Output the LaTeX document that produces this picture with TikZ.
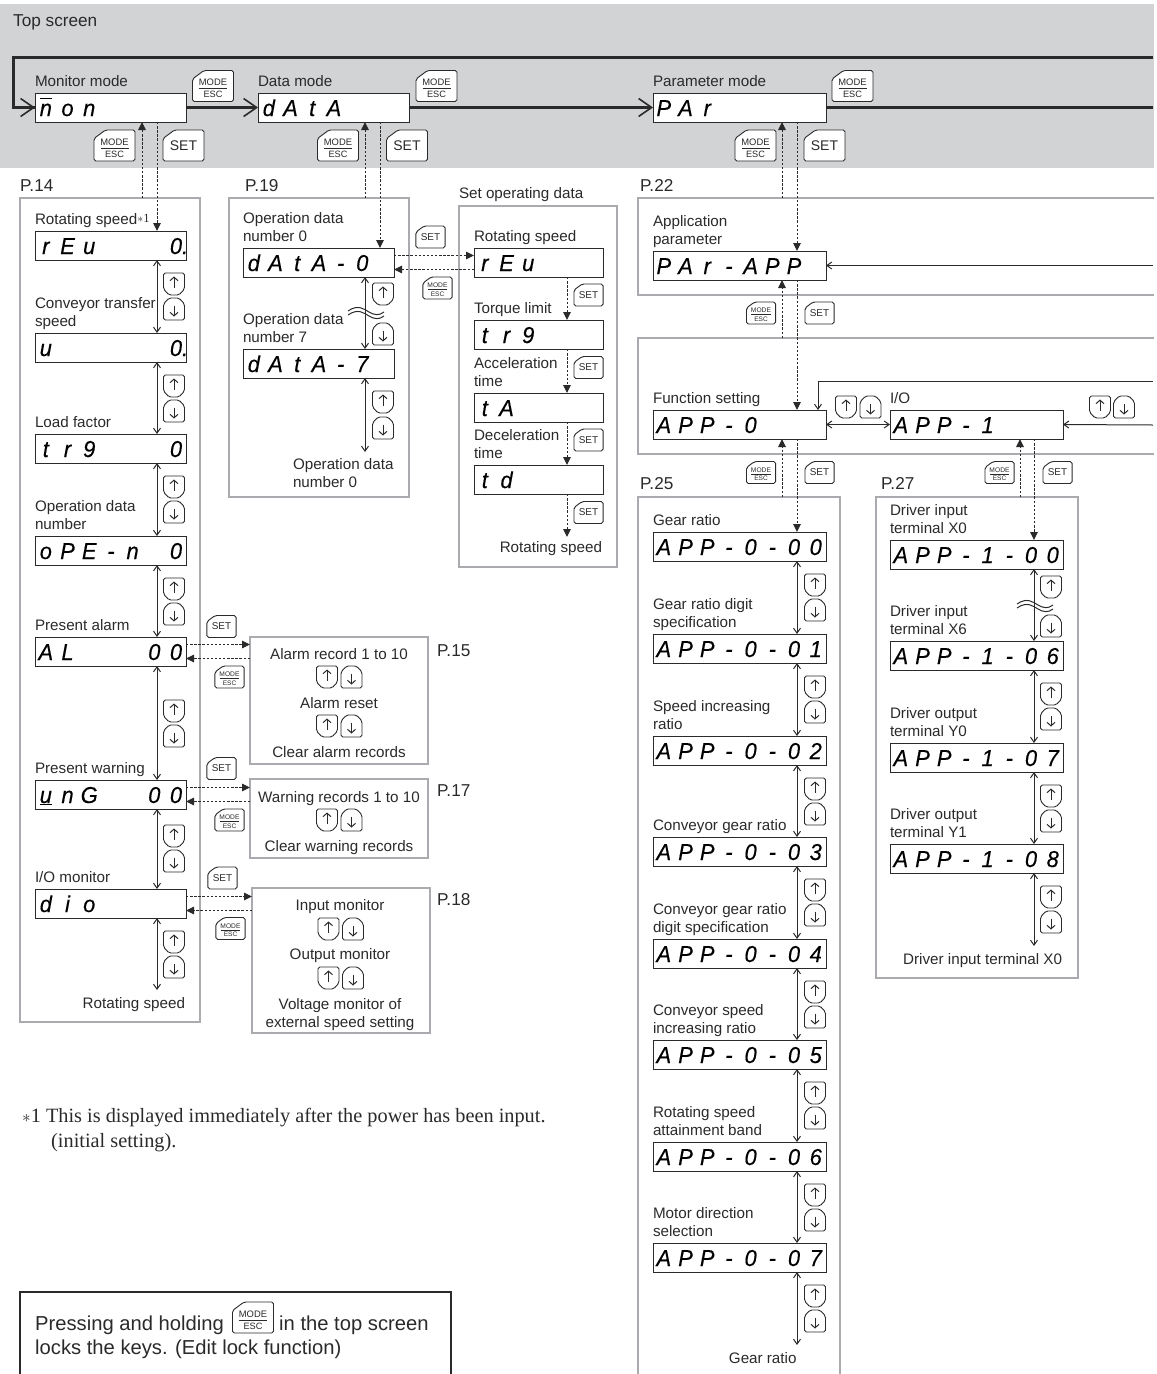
\documentclass[tikz,border=0pt]{standalone}
\usepackage{fontspec}
\usetikzlibrary{arrows.meta,positioning}
\setmainfont{Liberation Sans}
\newfontfamily\notefont{Liberation Serif}
\newfontfamily\lcdfont[FakeStretch=0.95,FakeBold=0.3]{Liberation Sans}

\definecolor{ink}{HTML}{2B2A2A}
\definecolor{bandgray}{HTML}{D1D3D4}
\definecolor{framegray}{HTML}{A9ABAE}

% one cell per character of a display
\def\lcdloop#1{\ifx#1\relax\else\makebox[21.7pt]{#1}\expandafter\lcdloop\fi}
\newcommand\lcd[1]{\lcdloop#1\relax}
\newcommand\lcdx[1]{\expandafter\lcdloop#1\relax}
\newcommand\lcdn{$\overline{\hbox{\vphantom{d}n}}$}
\newcommand\lcdv{\underline{u}}
\newcommand\zerodot{\kern6pt 0.}
\newcommand\starone{\raisebox{2.5pt}{\notefont\fontsize{12.5}{12}\selectfont$\ast$1}}

\tikzstyle{txt}=[inner sep=0pt, outer sep=0pt, text=ink, align=left, text depth=3pt, font={\fontsize{15.2}{18}\selectfont}]
\tikzstyle{ctxt}=[txt, align=center, anchor=south]
\tikzstyle{lbl}=[txt]
\tikzstyle{bigtxt}=[inner sep=0pt, text=ink, anchor=base west, font={\fontsize{17.2}{20}\selectfont}]
\tikzstyle{holdtxt}=[inner sep=0pt, text=ink, anchor=base west, font={\fontsize{20.2}{24}\selectfont}]
\tikzstyle{notetxt}=[inner sep=0pt, text=ink, anchor=base west, font={\notefont\fontsize{20.3}{24}\selectfont}]
\tikzstyle{frame}=[draw=framegray, line width=2.2pt, inner sep=0pt, outer sep=0pt, anchor=north west]
\tikzstyle{lcdbox}=[draw=ink, fill=white, line width=0.9pt, inner sep=0pt, outer sep=0pt, anchor=north west, minimum height=29pt, text height=17pt, text depth=0pt, align=left, font={\lcdfont\itshape\fontsize{23}{23}\selectfont}]
\tikzstyle{lcdmid}=[lcdbox, text width=151pt]
\tikzstyle{lcdwide}=[lcdbox, text width=173pt]
\tikzstyle{lcdshort}=[lcdbox, text width=129pt]
\tikzstyle{thickline}=[draw=ink, line width=2.4pt]
\tikzstyle{thickarrow}=[thickline, -{Straight Barb[length=13pt,width=18pt,line width=1.6pt]}]
\tikzstyle{stepline}=[draw=ink, line width=1pt]
\tikzstyle{steparrow}=[stepline, -{Straight Barb[length=5pt,width=7pt]}]
\tikzstyle{stepboth}=[stepline, {Straight Barb[length=5pt,width=7pt]}-{Straight Barb[length=5pt,width=7pt]}]
\tikzstyle{dotline}=[draw=ink, line width=1pt, dash pattern=on 2.4pt off 1.7pt]
\tikzstyle{dotarrow}=[dotline, -{Triangle[length=8pt,width=7.5pt]}]
\tikzstyle{keyline}=[draw=ink, fill=white, line width=0.9pt, rounded corners=1.8pt]
\tikzstyle{keyarrow}=[draw=ink, line width=1pt, -{Straight Barb[length=3.5pt,width=8pt]}]
\tikzstyle{smallkey}=[scale=0.71, transform shape]

\tikzset{
  pics/upkey/.style={code={
    \draw[keyline] (-10.5,-11) -- (10.5,-11) -- (10.5,5) -- (5,11) -- (-5,11) -- (-10.5,5) -- cycle;
    \draw[keyarrow] (0,3.5) -- (0,-7.5);
  }},
  pics/downkey/.style={code={
    \draw[keyline] (-5,-11) -- (5,-11) -- (10.5,-5) -- (10.5,11) -- (-10.5,11) -- (-10.5,-5) -- cycle;
    \draw[keyarrow] (0,-3.5) -- (0,7.5);
  }},
  pics/setkey/.style={code={
    \draw[keyline] (-20.5,-7) -- (-9,-15.5) -- (20.5,-15.5) -- (20.5,15.5) -- (-20.5,15.5) -- cycle;
    \node[inner sep=0pt, text=ink, font={\fontsize{14}{14}\selectfont}] (-lbl) at (0,0) {SET};
  }},
  pics/modekey/.style={code={
    \draw[keyline] (-20.5,-7) -- (-9,-15.5) -- (20.5,-15.5) -- (20.5,15.5) -- (-20.5,15.5) -- cycle;
    \node[inner sep=0pt, text=ink, font={\fontsize{9.4}{9.4}\selectfont}] (-top) at (0,-3.5) {MODE};
    \node[inner sep=0pt, text=ink, font={\fontsize{9.2}{9.2}\selectfont}] (-bot) at (0,8.7) {ESC};
    \draw[draw=ink, line width=0.9pt] (-14,2.7) -- (14,2.7);
  }},
  pics/wavebreak/.style={code={
    \draw[stepline] (-18,-2) .. controls (-8,-9) and (-2,-4) .. (3,-1) .. controls (8,2) and (13,3) .. (18,-1);
    \draw[stepline] (-18,2) .. controls (-8,-5) and (-2,0) .. (3,3) .. controls (8,6) and (13,7) .. (18,3);
  }}
}

\begin{document}
\begin{tikzpicture}[x=1pt,y=-1pt]
    \useasboundingbox (0,0) rectangle (1157,1374);

    % top screen band
    \fill[bandgray] (0,4) rectangle (1154,168);
    \node [bigtxt] (topscreen) at (13,26) {Top screen};

    % frames
    \node [frame, minimum width=180pt, minimum height=824pt] (p14box) at (20,198) {};
    \node [frame, minimum width=180pt, minimum height=299pt] (p19box) at (229,198) {};
    \node [frame, minimum width=158pt, minimum height=361pt] (setbox) at (459,206) {};
    \node [frame, minimum width=178pt, minimum height=127pt] (p15box) at (250,637) {};
    \node [frame, minimum width=178pt, minimum height=79pt] (p17box) at (250,779) {};
    \node [frame, minimum width=178pt, minimum height=145pt] (p18box) at (252,888) {};
    \node [frame, minimum width=202pt, minimum height=481pt] (p27box) at (876,497) {};
    \coordinate (ptop) at (638,198);
    \coordinate (fntop) at (638,338);
    \coordinate (p25top) at (638,497);
    \draw [frame] (1154,198) -- (ptop) -- (638,295) -- (1154,295);
    \draw [frame] (1154,338) -- (fntop) -- (638,454) -- (1154,454);
    \draw [frame] (638,1376) -- (p25top) -- (840,497) -- (840,1376);

    % page references
    \node [bigtxt] (ref14) at (20,191) {P.14};
    \node [bigtxt] (ref19) at (245,191) {P.19};
    \node [bigtxt] (ref22) at (640,191) {P.22};
    \node [bigtxt] (ref25) at (640,489.5) {P.25};
    \node [bigtxt] (ref27) at (881,489.5) {P.27};
    \node [bigtxt] (ref15) at (437,656) {P.15};
    \node [bigtxt] (ref17) at (437,796) {P.17};
    \node [bigtxt] (ref18) at (437,905) {P.18};

    % mode displays
    \node [lcdmid] (mon) at (35,93) {\lcd{\lcdn on}};
    \node [lcdmid] (data) at (258,93) {\lcd{dAtA}};
    \node [lcdwide] (par) at (653,93) {\lcd{PAr}};
    \node [lbl, above right=3.5pt and 0pt of mon.north west] (monlbl) {Monitor mode};
    \node [lbl, above right=3.5pt and 0pt of data.north west] (datalbl) {Data mode};
    \node [lbl, above right=3.5pt and 0pt of par.north west] (parlbl) {Parameter mode};

    % monitor column
    \foreach \nm/\yy/\txt/\lb in {
        rev/231/{rEu~~~\zerodot}/{Rotating speed\starone},
        spd/333/{u~~~~~\zerodot}/{Conveyor transfer\\speed},
        load/434/{tr9~~~0}/{Load factor},
        ope/536/{oPE-n~0}/{Operation data\\number},
        alm/637/{AL~~~00}/{Present alarm},
        wrn/780/{\lcdv nG~~00}/{Present warning},
        dio/889/{dio}/{I/O monitor}} {
        \node [lcdmid] (\nm) at (35,\yy) {\lcdx{\txt}};
        \node [lbl, above right=3.5pt and 0pt of \nm.north west] (\nm lbl) {\lb};
    }
    \node [ctxt, anchor=south east] (monend) at (185,1011.5) {Rotating speed};

    % data column
    \node [lcdmid] (dat0) at (243,248) {\lcd{dAtA-0}};
    \node [lcdmid] (dat7) at (243,349) {\lcd{dAtA-7}};
    \node [lbl, above right=3.5pt and 0pt of dat0.north west] (dat0lbl) {Operation data\\number 0};
    \node [lbl, above right=3.5pt and 0pt of dat7.north west] (dat7lbl) {Operation data\\number 7};
    \node [lbl, anchor=south west] (datend) at (293,490.5) {Operation data\\number 0};

    % set operating data
    \node [lbl, anchor=south west] (settitle) at (459,201.5) {Set operating data};
    \foreach \nm/\yy/\txt/\lb in {
        srev/248/rEu/{Rotating speed},
        strq/320/tr9/{Torque limit},
        sacc/393/tA/{Acceleration\\time},
        sdec/465/td/{Deceleration\\time}} {
        \node [lcdshort] (\nm) at (474,\yy) {\lcdx{\txt}};
        \node [lbl, above right=3.5pt and 0pt of \nm.north west] (\nm lbl) {\lb};
    }
    \node [ctxt, anchor=south east] (setend) at (602,555.5) {Rotating speed};

    % alarm, warning and I/O boxes
    \node [ctxt] (alm1) at (339,662.5) {Alarm record 1 to 10};
    \node [ctxt] (alm2) at (339,711.5) {Alarm reset};
    \node [ctxt] (alm3) at (339,760.5) {Clear alarm records};
    \node [ctxt] (wrn1) at (339,805.5) {Warning records 1 to 10};
    \node [ctxt] (wrn2) at (339,854.5) {Clear warning records};
    \node [ctxt] (dio1) at (340,913.5) {Input monitor};
    \node [ctxt] (dio2) at (340,962.5) {Output monitor};
    \node [ctxt] (dio3) at (340,1030.5) {Voltage monitor of\\external speed setting};

    % parameter rows
    \node [lcdwide] (papp) at (653,251) {\lcd{PAr-APP}};
    \node [lcdwide] (fn) at (653,410) {\lcd{APP-0}};
    \node [lcdwide] (io) at (890,410) {\lcd{APP-1}};
    \node [lbl, above right=3.5pt and 0pt of papp.north west] (papplbl) {Application\\parameter};
    \node [lbl, above right=3.5pt and 0pt of fn.north west] (fnlbl) {Function setting};
    \node [lbl, above right=3.5pt and 0pt of io.north west] (iolbl) {I/O};

    % function setting column
    \foreach \dg/\yy/\lb in {
        0/532/{Gear ratio},
        1/634/{Gear ratio digit\\specification},
        2/736/{Speed increasing\\ratio},
        3/837/{Conveyor gear ratio},
        4/939/{Conveyor gear ratio\\digit specification},
        5/1040/{Conveyor speed\\increasing ratio},
        6/1142/{Rotating speed\\attainment band},
        7/1243/{Motor direction\\selection}} {
        \node [lcdwide] (gear\dg) at (653,\yy) {\lcd{APP-0-0\dg}};
        \node [lbl, above right=3.5pt and 0pt of gear\dg.north west] (gear\dg lbl) {\lb};
    }
    \node [ctxt, anchor=south east] (gearend) at (796.5,1366.5) {Gear ratio};

    % I/O column
    \foreach \dg/\yy/\lb in {
        0/540/{Driver input\\terminal X0},
        6/641/{Driver input\\terminal X6},
        7/743/{Driver output\\terminal Y0},
        8/844/{Driver output\\terminal Y1}} {
        \node [lcdwide] (term\dg) at (890,\yy) {\lcd{APP-1-0\dg}};
        \node [lbl, above right=3.5pt and 0pt of term\dg.north west] (term\dg lbl) {\lb};
    }
    \node [ctxt, anchor=south east] (termend) at (1062,967.5) {Driver input terminal X0};

    % helper x positions
    \coordinate (mu) at (142,0);
    \coordinate (md) at (157,0);
    \coordinate (du) at (365,0);
    \coordinate (dd) at (380,0);
    \coordinate (pu) at (782,0);
    \coordinate (pd) at (797,0);
    \coordinate (iu) at (1020,0);
    \coordinate (id) at (1034,0);
    \coordinate (sx) at (567,0);
    \coordinate (lx) at (818,0);

    % top loop
    \coordinate (looptr) at (1153,57.5);
    \coordinate (loopcr) at (13.5,57.5);
    \coordinate (loopcb) at (13.5,107.5);
    \coordinate (parout) at (1153,107.5);
    \draw [thickline, line join=miter] (looptr) -- (loopcr) -- (loopcb) -- (mon.west);
    \draw [thickarrow] (loopcb) -- (mon.west);
    \draw [thickarrow] (mon.east) -- (data.west);
    \draw [thickarrow] (data.east) -- (par.west);
    \draw [thickline] (par.east) -- (parout);

    % dotted paths between levels
    \draw [dotarrow] (p14box.north -| mu) -- (mon.south -| mu);
    \draw [dotarrow] (mon.south -| md) -- (rev.north -| md);
    \draw [dotarrow] (p19box.north -| du) -- (data.south -| du);
    \draw [dotarrow] (data.south -| dd) -- (dat0.north -| dd);
    \draw [dotarrow] (ptop -| pu) -- (par.south -| pu);
    \draw [dotarrow] (par.south -| pd) -- (papp.north -| pd);
    \draw [dotarrow] (fntop -| pu) -- (papp.south -| pu);
    \draw [dotarrow] (papp.south -| pd) -- (fn.north -| pd);
    \draw [dotarrow] (p25top -| pu) -- (fn.south -| pu);
    \draw [dotarrow] (fn.south -| pd) -- (gear0.north -| pd);
    \draw [dotarrow] (p27box.north -| iu) -- (io.south -| iu);
    \draw [dotarrow] (io.south -| id) -- (term0.north -| id);

    % dotted paths sideways
    \foreach \aa/\bb in {alm/p15box, wrn/p17box, dio/p18box, dat0/srev} {
        \draw [dotarrow] ([yshift=7pt]\aa.east) -- ([yshift=7pt]\aa.east -| \bb.west);
        \draw [dotarrow] ([yshift=-7pt]\aa.east -| \bb.west) -- ([yshift=-7pt]\aa.east);
    }

    % set operating data steps
    \coordinate (setout) at (567,537);
    \draw [dotarrow] (srev.south -| sx) -- (strq.north -| sx);
    \draw [dotarrow] (strq.south -| sx) -- (sacc.north -| sx);
    \draw [dotarrow] (sacc.south -| sx) -- (sdec.north -| sx);
    \draw [dotarrow] (sdec.south -| sx) -- (setout);

    % up and down steps
    \foreach \aa/\bb in {rev/spd, spd/load, load/ope, ope/alm, alm/wrn, wrn/dio} {
        \draw [stepboth] (\aa.south -| md) -- (\bb.north -| md);
    }
    \coordinate (monout) at (157,990);
    \draw [stepboth] (dio.south -| md) -- (monout);
    \draw [stepboth] (dat0.south -| du) -- (dat7.north -| du);
    \coordinate (datout) at (365,452);
    \draw [stepboth] (dat7.south -| du) -- (datout);
    \foreach \aa/\bb in {0/1, 1/2, 2/3, 3/4, 4/5, 5/6, 6/7} {
        \draw [stepboth] (gear\aa.south -| pd) -- (gear\bb.north -| pd);
    }
    \coordinate (gearout) at (797,1345);
    \draw [stepboth] (gear7.south -| pd) -- (gearout);
    \foreach \aa/\bb in {0/6, 6/7, 7/8} {
        \draw [stepboth] (term\aa.south -| id) -- (term\bb.north -| id);
    }
    \coordinate (termout) at (1034,946);
    \draw [stepboth] (term8.south -| id) -- (termout);

    % parameter row links
    \coordinate (pappin) at (1153,265.5);
    \coordinate (ioin) at (1153,425);
    \coordinate (loopin) at (1153,381);
    \draw [steparrow] (pappin) -- (papp.east);
    \draw [steparrow] (ioin) -- (io.east);
    \draw [stepboth] (fn.east) -- (io.west);
    \draw [steparrow] (loopin) -- (loopin -| lx) -- (fn.north -| lx);

    % wave breaks
    \pic at (366,313) {wavebreak};
    \pic at (1035,606) {wavebreak};

    % arrow keys, stacked
    \foreach \xx/\yu/\yd in {
        174/284/309, 174/386/411, 174/487/512, 174/589/614, 174/711/736, 174/836/861, 174/942/967,
        383/294/334, 383/402/428,
        815/585/610, 815/687/712, 815/789/814, 815/890/915, 815/992/1017, 815/1093/1118, 815/1195/1220, 815/1296/1321,
        1051/587/626, 1051/694/719, 1051/796/821, 1051/897/922} {
        \pic at (\xx,\yu) {upkey};
        \pic at (\xx,\yd) {downkey};
    }
    % arrow keys, side by side
    \foreach \xu/\xd/\yy in {
        327/351.5/677, 327/351.5/726, 327/351.5/820,
        328.5/353/929, 328.5/353/978,
        846/870.5/407, 1100/1124/407} {
        \pic at (\xu,\yy) {upkey};
        \pic at (\xd,\yy) {downkey};
    }

    % mode and set keys
    \foreach \xx/\yy [count=\i] in {213/86, 436.5/86, 852.5/86, 114.5/145.5, 338/145.5, 755.5/145.5} {
        \pic (modebig\i) at (\xx,\yy) {modekey};
    }
    \foreach \xx/\yy [count=\i] in {183.5/145.5, 407/145.5, 824.5/145.5} {
        \pic (setbig\i) at (\xx,\yy) {setkey};
    }
    \foreach \xx/\yy [count=\i] in {229.5/677, 229.5/820, 230.5/928.5, 437.5/288, 761/313, 761/472.5, 999.5/472.5} {
        \pic [smallkey] (modesm\i) at (\xx,\yy) {modekey};
    }
    \foreach \xx/\yy [count=\i] in {221.5/626.5, 221.5/768.5, 222.5/878, 430.5/237, 588.5/295, 588.5/367.5, 588.5/440, 588.5/512.5, 819.5/313, 819.5/472.5, 1057.5/472.5} {
        \pic [smallkey] (setsm\i) at (\xx,\yy) {setkey};
    }

    % note
    \node [notetxt] (note1) at (22,1122) {{\fontsize{17}{17}\selectfont$\ast$}1 This is displayed immediately after the power has been input.};
    \node [notetxt] (note2) at (51,1147) {(initial setting).};

    % edit lock box
    \draw [draw=ink, line width=2.2pt] (20,1376) -- (20,1292) -- (451,1292) -- (451,1376);
    \node [holdtxt] (hold1) at (35,1330) {Pressing and holding};
    \pic (holdkey) at (253,1317.5) {modekey};
    \node [holdtxt] (hold2) at (279,1330) {in the top screen};
    \node [holdtxt] (hold3) at (35,1354) {locks the keys. (Edit lock function)};
\end{tikzpicture}
\end{document}
